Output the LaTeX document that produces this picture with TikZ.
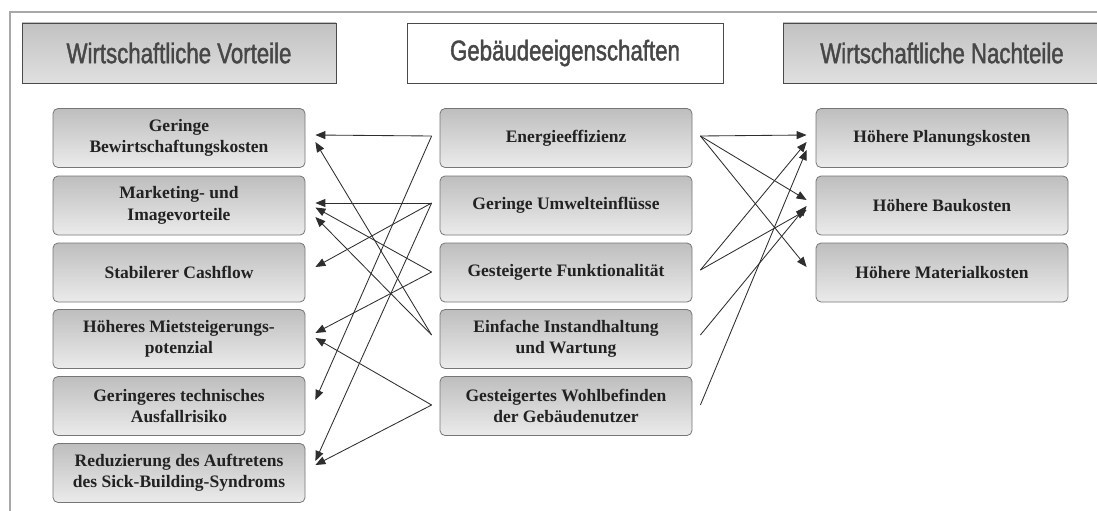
\documentclass[tikz,border=0pt]{standalone}
\usepackage{fontspec}
\setmainfont{Liberation Serif}
\newfontfamily\hdrfont[FakeStretch=0.78,FakeBold=1.5]{Liberation Sans}
\usetikzlibrary{arrows.meta}
\definecolor{frameg}{HTML}{A8A8A8}
\definecolor{hdrborder}{HTML}{4A4A4A}
\definecolor{hdrtop}{HTML}{C2C2C2}
\definecolor{hdrbot}{HTML}{E0E0E0}
\definecolor{hdrtext}{HTML}{474747}
\definecolor{boxborder}{HTML}{767676}
\definecolor{boxtop}{HTML}{BEBEBE}
\definecolor{boxbot}{HTML}{EBEBEB}
\definecolor{boxtext}{HTML}{222222}
\definecolor{arrcol}{HTML}{2E2E2E}
\tikzset{
  hdrbox/.style={draw=hdrborder, line width=0.9pt, minimum height=60pt, inner sep=0pt,
    font=\hdrfont\fontsize{28.5}{32}\selectfont, text=hdrtext},
  grayhdr/.style={hdrbox, top color=hdrtop, bottom color=hdrbot},
  whitehdr/.style={hdrbox, fill=white},
  itembox/.style={draw=boxborder, line width=0.8pt, rounded corners=5pt,
    minimum width=252pt, minimum height=59pt, inner sep=0pt,
    top color=boxtop, bottom color=boxbot, text=boxtext, align=center,
    font=\bfseries\fontsize{17.5}{21.5}\selectfont},
  arr/.style={draw=arrcol, line width=0.85pt, -{Triangle[length=10pt,width=8pt]}},
  frameline/.style={draw=frameg, line width=1.3pt}
}
\begin{document}
\begin{tikzpicture}[x=1pt,y=-1pt]
\useasboundingbox (0,0) rectangle (1097,511);
\fill[white] (0,0) rectangle (1097,511);
\draw[frameline] (10,520) -- (10,12) -- (1110,12);

% headers
\node[grayhdr, minimum width=314pt] (hl) at (179,53) {\raisebox{-2pt}{Wirtschaftliche Vorteile}};
\node[whitehdr, minimum width=316pt] (hm) at (565,53) {\raisebox{-1pt}{Gebäudeeigenschaften}};
\node[grayhdr, minimum width=318pt] (hr) at (942,53) {\raisebox{-2pt}{Wirtschaftliche Nachteile}};

% left column
\node[itembox] (l1) at (179,138) {Geringe\\Bewirtschaftungskosten};
\node[itembox] (l2) at (179,205.5) {Marketing- und\\Imagevorteile};
\node[itembox] (l3) at (179,272.5) {Stabilerer Cashflow};
\node[itembox] (l4) at (179,339) {Höheres Mietsteigerungs-\\potenzial};
\node[itembox] (l5) at (179,406) {Geringeres technisches\\Ausfallrisiko};
\node[itembox] (l6) at (179,473) {Reduzierung des Auftretens\\des Sick-Building-Syndroms};

% middle column
\node[itembox] (m1) at (566,138) {Energieeffizienz};
\node[itembox] (m2) at (566,205.5) {Geringe Umwelteinflüsse};
\node[itembox] (m3) at (566,272.5) {Gesteigerte Funktionalität};
\node[itembox] (m4) at (566,339) {Einfache Instandhaltung\\und Wartung};
\node[itembox] (m5) at (566,406) {Gesteigertes Wohlbefinden\\der Gebäudenutzer};

% right column
\node[itembox] (r1) at (942,138) {Höhere Planungskosten};
\node[itembox] (r2) at (942,205.5) {Höhere Baukosten};
\node[itembox] (r3) at (942,272.5) {Höhere Materialkosten};

% arrows to the left
\draw[arr] ([xshift=-8pt,yshift=2pt]m1.west) -- ([xshift=10pt,yshift=3pt]l1.east);
\draw[arr] ([xshift=-8pt,yshift=2pt]m1.west) -- ([xshift=10pt,yshift=6pt]l5.east);
\draw[arr] ([xshift=-8pt,yshift=2.5pt]m2.west) -- ([xshift=10pt,yshift=2.5pt]l2.east);
\draw[arr] ([xshift=-8pt,yshift=2.5pt]m2.west) -- ([xshift=10pt,yshift=5.5pt]l3.east);
\draw[arr] ([xshift=-8pt,yshift=2.5pt]m2.west) -- ([xshift=10pt,yshift=12pt]l6.east);
\draw[arr] ([xshift=-8pt,yshift=0.5pt]m3.west) -- ([xshift=10pt,yshift=-2pt]l2.east);
\draw[arr] ([xshift=-8pt,yshift=0.5pt]m3.west) -- ([xshift=10pt,yshift=6pt]l4.east);
\draw[arr] ([xshift=-8pt,yshift=4pt]m4.west) -- ([xshift=10pt,yshift=-4pt]l1.east);
\draw[arr] ([xshift=-8pt,yshift=4pt]m4.west) -- ([xshift=10pt,yshift=-11.5pt]l2.east);
\draw[arr] ([xshift=-8pt,yshift=1pt]m5.west) -- ([xshift=10pt,yshift=1pt]l4.east);
\draw[arr] ([xshift=-8pt,yshift=1pt]m5.west) -- ([xshift=10pt,yshift=8pt]l6.east);

% arrows to the right
\draw[arr] ([xshift=8pt,yshift=2pt]m1.east) -- ([xshift=-9pt,yshift=3pt]r1.west);
\draw[arr] ([xshift=8pt,yshift=2pt]m1.east) -- ([xshift=-9pt,yshift=5.5pt]r2.west);
\draw[arr] ([xshift=8pt,yshift=2pt]m1.east) -- ([xshift=-9pt,yshift=5.5pt]r3.west);
\draw[arr] ([xshift=8pt,yshift=2.5pt]m3.east) -- ([xshift=-9pt,yshift=-4pt]r1.west);
\draw[arr] ([xshift=8pt,yshift=2.5pt]m3.east) -- ([xshift=-9pt,yshift=-4.5pt]r2.west);
\draw[arr] ([xshift=8pt,yshift=4pt]m4.east) -- ([xshift=-9pt,yshift=-0.5pt]r2.west);
\draw[arr] ([xshift=8pt,yshift=1pt]m5.east) -- ([xshift=-9pt,yshift=-12pt]r1.west);
\end{tikzpicture}
\end{document}
